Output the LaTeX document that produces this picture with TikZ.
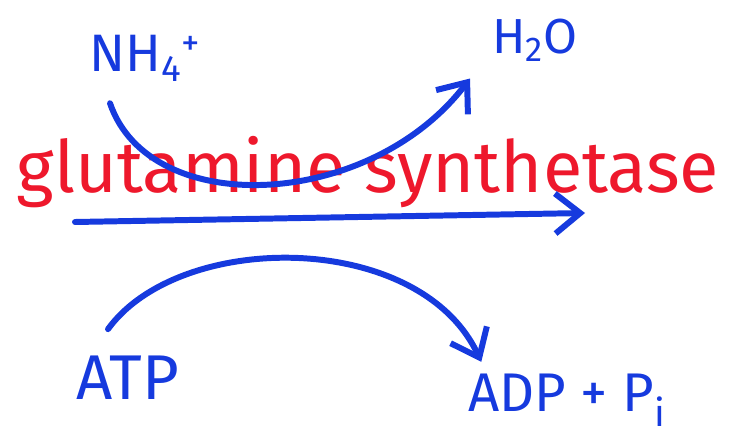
\documentclass[tikz,border=0pt]{standalone}
\usepackage{fontspec}
\setmainfont{Fira Sans}
\usetikzlibrary{arrows.meta}
\definecolor{pen}{RGB}{22,58,222}
\definecolor{ink}{RGB}{238,24,44}

\begin{document}
\begin{tikzpicture}[x=0.02cm,y=-0.02cm,
      lbl/.style={text=pen,inner sep=1pt},
      arr/.style={draw=pen,line width=3.4pt,line cap=round,
                  -{Straight Barb[length=5mm,width=8mm,line width=3.4pt]}}]
    \useasboundingbox (0,0) rectangle (732,439);

    \node[lbl,font=\fontsize{30}{34}\selectfont] (nh4) at (145,58) {NH\textsubscript{4}\textsuperscript{+}};
    \node[lbl,font=\fontsize{28}{32}\selectfont] (water) at (535,40) {H\textsubscript{2}O};
    \node[text=ink,font=\fontsize{41}{47}\selectfont] (enzyme) at (368,172) {glutamine synthetase};
    \node[lbl,font=\fontsize{36}{40}\selectfont] (atp) at (128,378) {ATP};
    \node[lbl,font=\fontsize{31}{36}\selectfont] (adp) at (567,400) {ADP + P\textsubscript{i}};

    % main reaction
    \coordinate (rxs) at (75,222);
    \coordinate (rxe) at (585,213);
    \draw[arr] (rxs) -- (rxe);

    % ammonium in, water out
    \draw[arr] ([xshift=-0.7cm,yshift=-0.4cm]nh4.south) .. controls (150,220) and (370,210) .. ([xshift=-1.3cm,yshift=-0.3cm]water.south);

    % ATP in, ADP out
    \draw[arr] ([xshift=-0.4cm,yshift=0.5cm]atp.north) .. controls (180,230) and (420,230) .. ([xshift=0.3cm,yshift=0.2cm]adp.north west);
  \end{tikzpicture}
\end{document}
